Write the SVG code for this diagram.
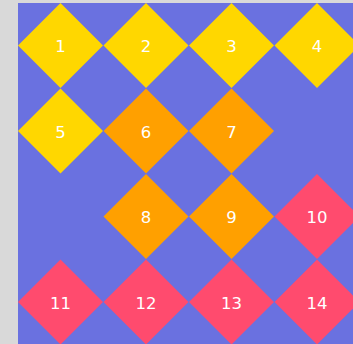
<svg xmlns="http://www.w3.org/2000/svg" width="353" height="344" viewBox="0 0 353 344">
<style>
.y{fill:#ffd700}.o{fill:#ffa000}.r{fill:#ff4b6e}
text{font-family:"DejaVu Sans",sans-serif;font-size:16.5px;fill:#fff;text-anchor:middle}
</style>
<defs><polygon id="d" points="0,-42.5 42.5,0 0,42.5 -42.5,0"/></defs>
<rect width="353" height="344" fill="#d9d9d9"/>
<rect x="18" y="3" width="335" height="341" fill="#6a71e0"/>
<g id="n1" transform="translate(60.5,45.5)"><use href="#d" class="y"/><text y="6.8">1</text></g>
<g id="n2" transform="translate(146,45.5)"><use href="#d" class="y"/><text y="6.8">2</text></g>
<g id="n3" transform="translate(231.5,45.5)"><use href="#d" class="y"/><text y="6.8">3</text></g>
<g id="n4" transform="translate(317,45.5)"><use href="#d" class="y"/><text y="6.8">4</text></g>
<g id="n5" transform="translate(60.5,131)"><use href="#d" class="y"/><text y="6.8">5</text></g>
<g id="n6" transform="translate(146,131)"><use href="#d" class="o"/><text y="6.8">6</text></g>
<g id="n7" transform="translate(231.5,131)"><use href="#d" class="o"/><text y="6.8">7</text></g>
<g id="n8" transform="translate(146,216.5)"><use href="#d" class="o"/><text y="6.8">8</text></g>
<g id="n9" transform="translate(231.5,216.5)"><use href="#d" class="o"/><text y="6.8">9</text></g>
<g id="n10" transform="translate(317,216.5)"><use href="#d" class="r"/><text y="6.8">10</text></g>
<g id="n11" transform="translate(60.5,302)"><use href="#d" class="r"/><text y="6.8">11</text></g>
<g id="n12" transform="translate(146,302)"><use href="#d" class="r"/><text y="6.8">12</text></g>
<g id="n13" transform="translate(231.5,302)"><use href="#d" class="r"/><text y="6.8">13</text></g>
<g id="n14" transform="translate(317,302)"><use href="#d" class="r"/><text y="6.8">14</text></g>
<g id="connectors"></g>
</svg>
